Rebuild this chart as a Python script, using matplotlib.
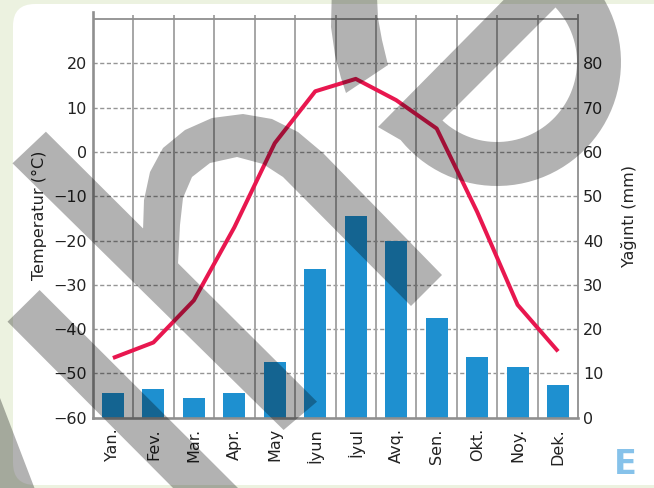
import numpy as np
import matplotlib
matplotlib.use("Agg")
import matplotlib.pyplot as plt
from matplotlib.path import Path
from matplotlib.patches import PathPatch, FancyBboxPatch
from matplotlib.transforms import Affine2D

# --- data ---
months = ["Yan.", "Fev.", "Mar.", "Apr.", "May", "İyun", "İyul", "Avq.",
          "Sen.", "Okt.", "Noy.", "Dek."]
temperature = [-46.5, -43.0, -33.5, -17.0, 2.0, 13.7, 16.5, 11.7, 5.3, -13.5, -34.5, -45.0]
precipitation = [5.5, 6.6, 4.5, 5.5, 12.6, 33.7, 45.6, 40.0, 22.6, 13.8, 11.5, 7.4]

temp_ticks = [-60, -50, -40, -30, -20, -10, 0, 10, 20]
rain_ticks = [0, 10, 20, 30, 40, 50, 60, 70, 80]

W, H = 654, 488
fig = plt.figure(figsize=(W / 100, H / 100), dpi=100)
fig.patch.set_facecolor("#ecf2e0")

# pixel coords, y pointing down
px = Affine2D().scale(1 / W, -1 / H).translate(0, 1) + fig.transFigure

card = FancyBboxPatch((13, 4), 670, 481, boxstyle="round,pad=0,rounding_size=22",
                      transform=px, facecolor="white", edgecolor="none", zorder=-5)
fig.add_artist(card)

ax_t = fig.add_axes([92.7 / W, 1 - 417.8 / H, (578.3 - 92.7) / W, (417.8 - 12) / H])
ax_p = ax_t.twinx()
ax_t.set_zorder(ax_p.get_zorder() + 1)
ax_t.patch.set_visible(False)

x = np.arange(len(months))
grid_c = "#959595"
frame_c = "#8f8f8f"

# grid and bars on precipitation axis
ax_p.hlines(rain_ticks[1:], -0.5, 11.5, colors=grid_c, linestyles=(0, (3, 1.8)), lw=1.0, zorder=1)
ax_p.vlines(np.arange(0.5, 11.5, 1), 0, 91, colors="#a6a6a6", lw=1.4, zorder=1)
ax_p.hlines(90, -0.5, 11.5, colors=frame_c, lw=1.3, zorder=1)
ax_p.bar(x, precipitation, width=0.54, color="#1e90d0", zorder=2)

# temperature line
ax_t.plot(x, temperature, color="#e8174f", lw=2.9, solid_joinstyle="round",
          solid_capstyle="butt", zorder=3)

ax_t.set_xlim(-0.5, 11.5)
ax_t.set_ylim(-60, 31.6)
ax_p.set_ylim(0, 91.6)

ax_t.set_yticks(temp_ticks)
ax_p.set_yticks(rain_ticks)
ax_t.set_xticks(x)
ax_t.set_xticklabels(months, rotation=90)
ax_t.tick_params(axis="y", length=0, pad=4.3, labelsize=11.5, labelcolor="#222222")
ax_t.tick_params(axis="x", length=0, pad=7.5, labelsize=11.5, labelcolor="#222222")
ax_p.tick_params(axis="y", length=0, pad=3.4, labelsize=11.5, labelcolor="#222222")

for a in (ax_t, ax_p):
    for s in a.spines.values():
        s.set_visible(False)
ax_p.spines["left"].set_visible(True)
ax_p.spines["left"].set_color(frame_c)
ax_p.spines["left"].set_linewidth(1.9)
ax_p.spines["bottom"].set_visible(True)
ax_p.spines["bottom"].set_color(frame_c)
ax_p.spines["bottom"].set_linewidth(1.9)
ax_p.spines["right"].set_visible(True)
ax_p.spines["right"].set_color(frame_c)
ax_p.spines["right"].set_linewidth(1.3)
ax_p.spines["right"].set_bounds(0, 91)

fig.text(39.6 / W, 1 - 215 / H, "Temperatur (°C)", rotation=90, ha="center", va="center",
         fontsize=11.5, color="#222222")
fig.text(629 / W, 1 - 216 / H, "Yağıntı (mm)", rotation=90, ha="center", va="center",
         fontsize=11.5, color="#222222")
fig.text(625 / W, 1 - 465 / H, "E", fontsize=24, fontweight="bold", color="#86c2ea",
         ha="center", va="center")


# --- watermark shapes (pixel coords) ---
def orient(pts, ccw=True):
    pts = np.asarray(pts, float)
    area = 0.5 * np.sum(pts[:, 0] * np.roll(pts[:, 1], -1) - np.roll(pts[:, 0], -1) * pts[:, 1])
    if (area > 0) != ccw:
        pts = pts[::-1]
    return pts


def arc(c, r, a0, a1, n=60):
    t = np.radians(np.linspace(a0, a1, n))
    return np.column_stack([c[0] + r * np.cos(t), c[1] + r * np.sin(t)])


shapes = []
shapes.append(orient([(12.5, 163.3), (45.9, 131.7), (317, 401.7), (283.6, 430)]))
shapes.append(orient([(7.5, 321.7), (39.6, 290), (250, 500), (185, 500)]))
shapes.append(orient([(-5, 390), (0, 398), (36, 492), (-5, 492)]))
shapes.append(orient([(143, 250), (143, 231), (144, 200), (150, 172), (163, 148), (185, 130),
                      (212, 118), (243, 114), (272, 119), (298, 132), (323, 153), (442, 275),
                      (411, 306), (283, 177), (263, 164), (237, 157), (210, 163), (192, 177),
                      (183, 198), (180, 225), (178, 264), (178, 280)]))
shapes.append(orient([(331.7, -3), (331, 27), (335, 55), (341, 78), (346, 93), (388, 65),
                      (382, 40), (378, 18), (377, -3)]))

c = (497.0, 62.0)
ring_out = np.vstack([[(378, 127)], arc(c, 124, 141.0, -63.6)])
shapes.append(orient(ring_out))
hole = arc(c, 80, 133.0, -43.0)
holes = [orient(hole, ccw=False)]

verts, codes = [], []
for p in shapes + holes:
    verts.extend(p.tolist())
    verts.append(p[0].tolist())
    codes.extend([Path.MOVETO] + [Path.LINETO] * (len(p) - 1) + [Path.CLOSEPOLY])
wm = PathPatch(Path(verts, codes), transform=px, facecolor="black", alpha=0.3,
               edgecolor="none", zorder=10)
fig.add_artist(wm)

fig.savefig("out.png", dpi=100)
